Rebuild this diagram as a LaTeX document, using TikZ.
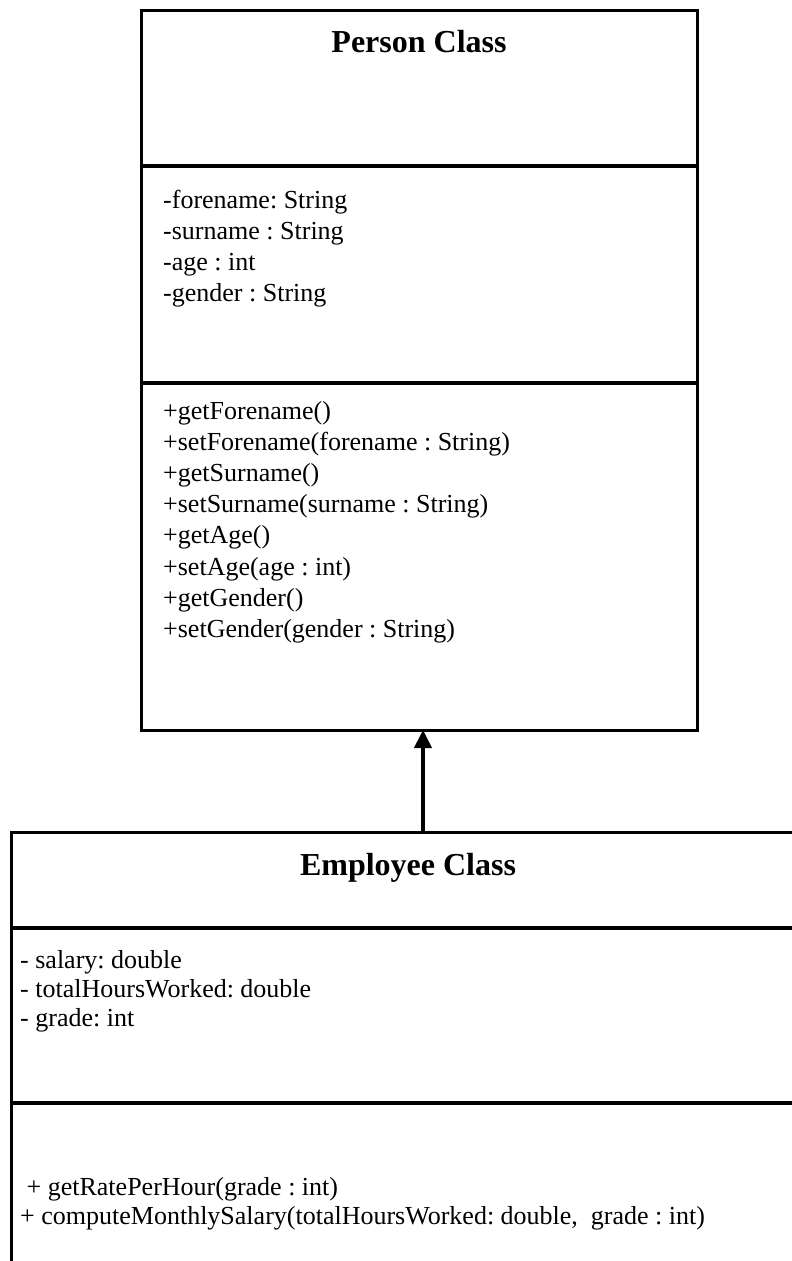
\documentclass[tikz,border=0pt]{standalone}
\usepackage{fontspec}
\setmainfont{Liberation Serif}
\usetikzlibrary{arrows.meta}
\frenchspacing
\begin{document}
\begin{tikzpicture}[x=1pt,y=-1pt,
  classbox/.style={draw=black, line width=3pt, inner sep=0pt, outer sep=0pt, anchor=north west},
  rule/.style={draw=black, line width=4pt},
  classname/.style={font=\fontsize{32}{38}\selectfont\bfseries, inner sep=0pt, anchor=base},
  member/.style={font=\fontsize{26}{31}\selectfont, inner sep=0pt, anchor=base west},
  inherit/.style={-{Triangle[length=18pt,width=17pt]}, line width=4pt}
]
\useasboundingbox (0,0) rectangle (792,1261);
\clip (0,0) rectangle (792,1261);

% Person class
\node[classbox, minimum width=556pt, minimum height=720pt] (person) at (141,10) {};
\draw[rule] (141,166) -- (697,166);
\draw[rule] (141,383) -- (697,383);
\node[classname] (ptitle) at (419,52) {Person Class};
\foreach \t [count=\i] in {-forename: String, -surname : String, -age : int, -gender : String}
  \node[member] (pa\i) at (163,{208+31*(\i-1)}) {\t};
\foreach \t [count=\i] in {+getForename(), +setForename(forename : String), +getSurname(),
    +setSurname(surname : String), +getAge(), +setAge(age : int), +getGender(),
    +setGender(gender : String)}
  \node[member] (pm\i) at (163,{419+31.2*(\i-1)}) {\t};

% Employee class (runs past the right and bottom edges)
\node[classbox, minimum width=794pt, minimum height=520pt] (emp) at (11,832) {};
\draw[rule] (11,928) -- (810,928);
\draw[rule] (11,1103) -- (810,1103);
\node[classname] (etitle) at (408,875) {Employee Class};
\foreach \t [count=\i] in {- salary: double, - totalHoursWorked: double, - grade: int}
  \node[member] (ea\i) at (20,{968+29*(\i-1)}) {\t};
\node[member] (em1) at (20,1195) {\ + getRatePerHour(grade : int)};
\node[member] (em2) at (20,1224) {+ computeMonthlySalary(totalHoursWorked: double,\ \ grade : int)};

% Inheritance arrow
\coordinate (base) at ([xshift=4pt]person.south);
\draw[inherit] (emp.north -| base) -- (base);
\end{tikzpicture}
\end{document}
